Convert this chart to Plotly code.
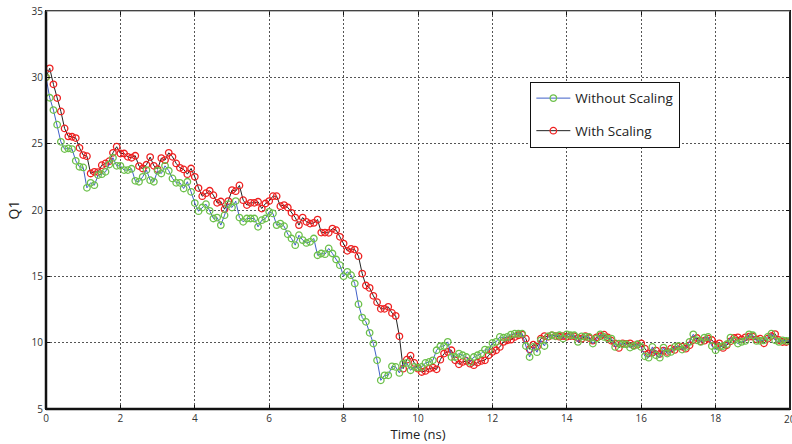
import plotly.graph_objects as go

# Time axis (ns), 0.1 ns sampling
time_ns = [round(i * 0.1, 1) for i in range(201)]

# Q1 values, "Without Scaling"
q1_without = [
    30.0, 28.46, 27.53, 26.43, 25.14, 24.59, 24.64, 24.59, 23.71, 23.26,
    23.21, 21.67, 22.05, 21.87, 22.63, 22.70, 22.88, 23.43, 23.94, 23.33,
    23.33, 23.01, 23.01, 23.11, 22.20, 22.13, 22.50, 23.01, 22.25, 22.13,
    22.96, 22.75, 23.33, 22.96, 22.38, 22.05, 22.05, 21.62, 22.13, 21.37,
    20.52, 19.91, 20.19, 20.44, 19.94, 19.36, 19.43, 18.86, 19.61, 20.44,
    20.19, 20.67, 19.43, 19.11, 19.36, 19.36, 19.36, 18.73, 19.23, 19.36,
    19.86, 19.74, 18.86, 18.98, 18.78, 18.18, 17.85, 17.35, 18.10, 17.73,
    17.52, 17.60, 17.85, 16.59, 16.72, 16.67, 17.10, 16.72, 16.27, 15.84,
    15.01, 15.34, 15.09, 14.46, 12.90, 11.89, 11.57, 10.74, 9.93, 8.67,
    7.16, 7.54, 7.54, 8.22, 8.17, 7.72, 8.42, 8.47, 7.92, 8.17,
    8.12, 8.17, 8.47, 8.55, 8.67, 9.43, 9.73, 9.75, 10.06, 8.92,
    8.92, 9.18, 9.05, 8.92, 8.55, 8.92, 9.05, 9.18, 9.48, 9.43,
    9.98, 10.06, 10.43, 10.38, 10.43, 10.61, 10.68, 10.68, 10.68, 9.75,
    8.92, 9.68, 9.28, 10.18, 9.75, 10.48, 10.56, 10.48, 10.56, 10.31,
    10.63, 10.56, 10.56, 10.06, 10.48, 10.43, 10.43, 9.93, 10.31, 10.63,
    10.43, 10.31, 10.31, 9.68, 9.93, 9.88, 9.88, 9.63, 9.75, 9.88,
    9.68, 8.97, 8.87, 9.68, 9.05, 8.87, 9.63, 9.18, 9.30, 9.68,
    9.75, 9.48, 9.68, 10.06, 10.63, 10.18, 10.06, 10.38, 10.43, 9.75,
    9.43, 9.68, 9.75, 9.88, 10.38, 10.18, 9.93, 10.06, 10.13, 10.63,
    10.56, 10.13, 10.13, 10.18, 10.43, 10.68, 10.18, 10.06, 10.18, 10.13,
    10.13,
]

# Q1 values, "With Scaling"
q1_with = [
    30.0, 30.68, 29.47, 28.44, 27.43, 26.15, 25.55, 25.52, 25.42, 24.69,
    24.14, 24.06, 22.75, 22.88, 22.86, 23.38, 23.51, 23.68, 24.31, 24.77,
    24.26, 24.26, 24.01, 23.94, 24.09, 23.31, 23.13, 23.41, 23.99, 23.33,
    23.08, 23.91, 23.76, 24.31, 24.01, 23.51, 23.18, 23.06, 22.70, 23.13,
    22.50, 21.65, 21.04, 21.27, 21.45, 21.12, 20.54, 20.64, 20.06, 20.67,
    21.50, 21.42, 21.85, 20.74, 20.37, 20.54, 20.54, 20.62, 20.11, 20.49,
    20.67, 21.04, 21.04, 20.29, 20.37, 20.19, 19.79, 19.43, 18.86, 19.43,
    19.11, 18.98, 19.03, 19.28, 18.30, 18.30, 18.28, 18.60, 18.48, 17.98,
    17.47, 16.92, 17.07, 17.02, 16.52, 15.21, 14.31, 14.13, 13.53, 13.05,
    12.55, 12.55, 12.70, 12.24, 12.02, 10.48, 8.04, 8.72, 9.02, 8.47,
    8.04, 7.79, 7.87, 8.04, 8.12, 7.99, 8.72, 9.18, 9.30, 9.43,
    8.67, 8.37, 8.55, 8.62, 8.42, 8.30, 8.50, 8.62, 8.67, 9.05,
    9.30, 9.43, 9.68, 10.06, 10.18, 10.23, 10.43, 10.56, 10.60, 10.30,
    9.50, 9.85, 9.70, 10.30, 10.50, 10.45, 10.55, 10.50, 10.45, 10.50,
    10.45, 10.50, 10.48, 10.35, 10.30, 10.50, 10.35, 10.15, 10.40, 10.50,
    10.60, 10.40, 10.15, 9.95, 9.60, 9.95, 9.90, 9.95, 9.80, 9.85,
    9.95, 9.55, 9.20, 9.25, 9.40, 9.15, 9.40, 9.30, 9.55, 9.45,
    9.70, 9.70, 9.55, 9.80, 10.20, 10.35, 10.10, 10.15, 10.30, 10.20,
    9.85, 9.95, 9.60, 9.80, 10.10, 10.35, 10.40, 10.25, 10.40, 10.45,
    10.45, 10.25, 10.30, 9.95, 10.30, 10.50, 10.65, 10.20, 10.05, 10.05,
    10.10,
]

x_ticks = [0, 2, 4, 6, 8, 10, 12, 14, 16, 18, 20]
y_ticks = [5, 10, 15, 20, 25, 30, 35]

FONT = "Open Sans"
TICKFONT = dict(family=FONT, size=10, color="#333333")

fig = go.Figure()

fig.add_trace(go.Scatter(
    x=time_ns, y=q1_with, mode="lines+markers", name="With Scaling",
    legendgroup="b", legendrank=2,
    line=dict(color="#222222", width=1),
    marker=dict(symbol="circle-open", size=6.5, color="#ee2020", line=dict(width=1.3)),
))
fig.add_trace(go.Scatter(
    x=time_ns, y=q1_without, mode="lines+markers", name="Without Scaling",
    legendgroup="a", legendrank=1,
    line=dict(color="#3f5fc8", width=1),
    marker=dict(symbol="circle-open", size=6.5, color="#6cc04a", line=dict(width=1.3)),
))

axis_common = dict(
    showgrid=True, gridcolor="#555555", griddash="2px,2px", gridwidth=1,
    zeroline=False, showline=True, linecolor="#111111", linewidth=1,
    mirror="ticks", ticks="inside", ticklen=4, tickcolor="#111111",
    tickfont=TICKFONT,
)

fig.update_layout(
    width=792, height=444,
    margin=dict(l=46, r=2, t=11, b=35),
    paper_bgcolor="white", plot_bgcolor="white",
    showlegend=True,
    legend=dict(
        x=0.651, y=0.822, xanchor="left", yanchor="top",
        bgcolor="white", bordercolor="#111111", borderwidth=1,
        font=dict(family=FONT, size=13.5, color="#222222"),
        tracegroupgap=12, traceorder="grouped", itemwidth=34,
    ),
    xaxis=dict(
        range=[0, 20], tickvals=x_ticks, ticktext=[str(v) for v in x_ticks],
        title=dict(text="Time (ns)", font=dict(family=FONT, size=13, color="#222222"), standoff=0),
        **axis_common,
    ),
    yaxis=dict(
        range=[5, 35], tickvals=y_ticks, ticktext=[str(v) for v in y_ticks],
        title=dict(text="Q1", font=dict(family=FONT, size=14, color="#222222"), standoff=8),
        **axis_common,
    ),
)

# last x tick label (clipped at the page edge in the original)
fig.add_annotation(x=x_ticks[-1], y=0, xref="x", yref="paper", yanchor="top",
                   text=str(x_ticks[-1]), showarrow=False, yshift=-1, font=TICKFONT)

# frame: thick left/bottom/right, thin grey top
fig.add_shape(type="line", xref="paper", yref="paper", x0=0, x1=0, y0=0, y1=1,
              line=dict(color="#111111", width=2.5))
fig.add_shape(type="line", xref="paper", yref="paper", x0=0, x1=1, y0=0, y1=0,
              line=dict(color="#111111", width=2.5))
fig.add_shape(type="line", xref="paper", yref="paper", x0=1, x1=1, y0=0, y1=1,
              line=dict(color="#222222", width=2))
fig.add_shape(type="line", xref="paper", yref="paper", x0=0, x1=1, y0=1, y1=1,
              line=dict(color="#777777", width=1))

fig.write_html("out.html")
